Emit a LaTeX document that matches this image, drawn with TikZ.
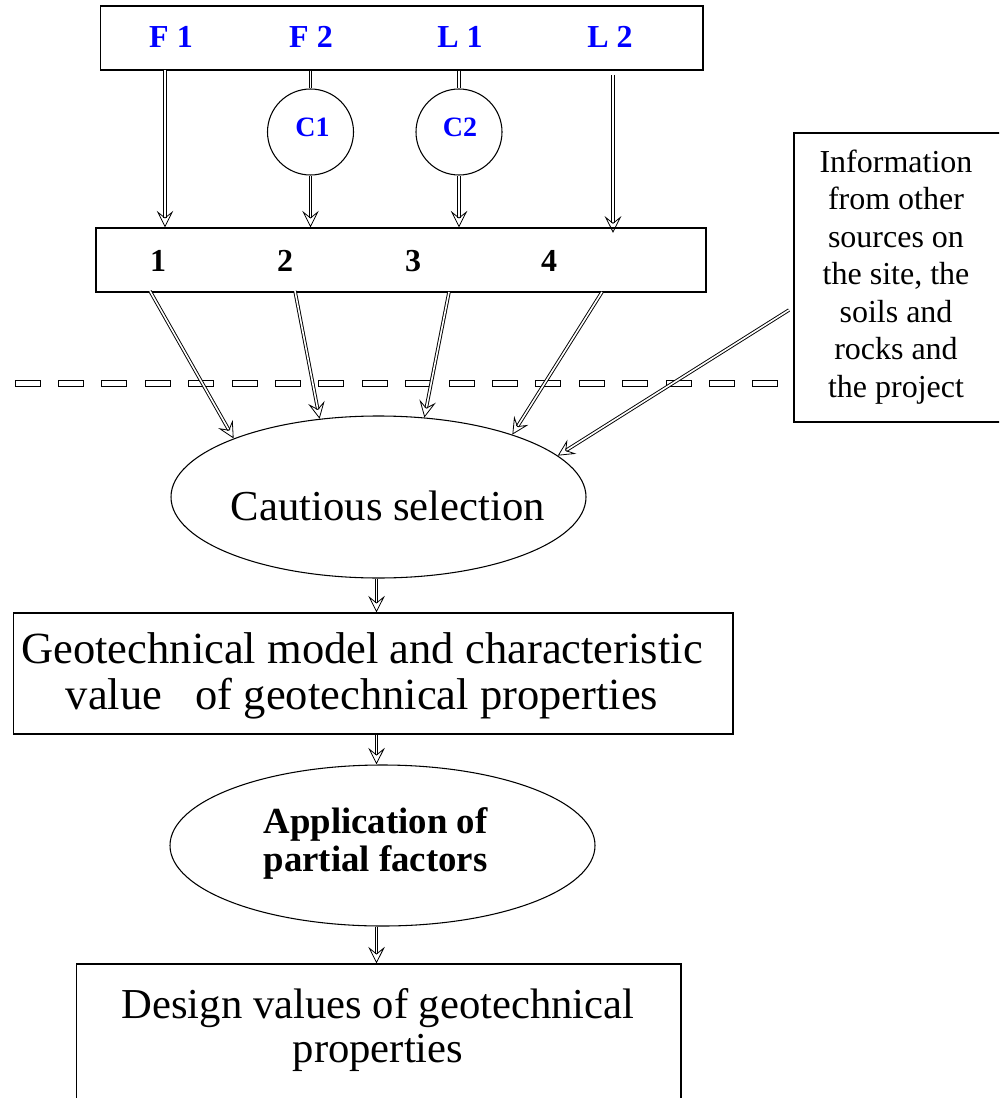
\documentclass[tikz,border=0pt]{standalone}
\usepackage{fontspec}
\setmainfont{Liberation Serif}
\usetikzlibrary{arrows.meta,shapes.geometric}
\definecolor{lblue}{RGB}{0,0,255}
\begin{document}
\begin{tikzpicture}[x=0.75pt,y=-0.75pt,
  box/.style={draw, line width=0.8pt, rectangle, inner sep=0pt},
  oval/.style={draw, line width=0.8pt, ellipse, inner sep=0pt},
  circ/.style={draw, line width=0.8pt, circle, inner sep=0pt, minimum size=64.5pt},
  dbl/.style={double, double distance=1.2pt, line width=0.7pt},
  arr/.style={dbl, -{Stealth[open, length=12.5pt, width=12.5pt, inset=5pt, line width=0.6pt]}},
  toplbl/.style={text=lblue, font=\bfseries\fontsize{24}{26}\selectfont, anchor=base, inner sep=0pt},
  numlbl/.style={font=\bfseries\fontsize{24}{26}\selectfont, anchor=base, inner sep=0pt},
  clbl/.style={text=lblue, font=\bfseries\fontsize{21}{23}\selectfont, anchor=base, inner sep=0pt},
  bigtxt/.style={font=\fontsize{32}{33}\selectfont, align=center, inner sep=0pt},
  dashbox/.style={draw, line width=0.5pt, fill=white}
]
\useasboundingbox (0,0) rectangle (999,1098);
\clip (0,0) rectangle (999,1098);

% top box
\node[box, minimum width=451.7pt, minimum height=48pt] (tb) at (401.85,38) {};
\node[toplbl] (f1) at (171,48) {F 1};
\node[toplbl] (f2) at (311,48) {F 2};
\node[toplbl] (l1) at (460,48) {L 1};
\node[toplbl] (l2) at (610,48) {L 2};

% circles
\node[circ] (c1) at (310.5,132) {};
\node[clbl] (c1t) at (312.5,137) {C1};
\node[circ] (c2) at (459,132) {};
\node[clbl] (c2t) at (460,137) {C2};

% number box
\node[box, minimum width=457.5pt, minimum height=48pt] (nb) at (401,260) {};
\node[numlbl] (n1) at (158,272) {1};
\node[numlbl] (n2) at (285,272) {2};
\node[numlbl] (n3) at (413,272) {3};
\node[numlbl] (n4) at (549,272) {4};

% info box
\node[box, minimum width=158.25pt, minimum height=216.75pt] (info) at (899.5,277.5) {};
\node[font=\fontsize{24}{28.1}\selectfont, align=center, inner sep=0pt] (infot) at (896,277)
  {Information\\from other\\sources on\\the site, the\\soils and\\rocks and\\the project};

% dashed separator
\foreach \k in {0,...,17} {
  \draw[dashbox] ({14.9+43.4*\k},380) rectangle ({39.9+43.4*\k},386);
}

% cautious selection
\node[oval, minimum width=311.25pt, minimum height=121.5pt] (sel) at (378.5,497) {};
\node[bigtxt, anchor=base] (selt) at (388,520) {Cautious selection};

% geotechnical model box
\node[box, minimum width=539.5pt, minimum height=90.75pt] (geo) at (373.3,673.5) {};
\node[bigtxt, font=\fontsize{33.4}{34}\selectfont] (geot) at (362,676) {Geotechnical model and characteristic\\value \ \ of geotechnical properties};

% application ellipse
\node[oval, minimum width=318.75pt, minimum height=120.75pt] (app) at (382.5,845.5) {};
\node[font=\bfseries\fontsize{27.6}{28.5}\selectfont, align=center, inner sep=0pt] (appt) at (375.5,843) {Application of\\partial factors};

% design box
\node[box, minimum width=453.3pt, minimum height=109.5pt] (des) at (378.8,1037) {};
\node[bigtxt] (dest) at (378,1030) {Design values of geotechnical\\properties};

% coordinates
\coordinate (a1) at (165,70);
\coordinate (a4) at (613,75);
\coordinate (s1) at (150,291);
\coordinate (s2) at (295,291);
\coordinate (s3) at (449,292);
\coordinate (s4) at (602,292);
\coordinate (si) at (789,310);
\coordinate (col) at (376.5,0);

% top connectors
\draw[arr] (a1) -- (a1 |- nb.north);
\draw[dbl] (c1 |- tb.south) -- (c1.north);
\draw[arr] (c1.south) -- (c1 |- nb.north);
\draw[dbl] (c2 |- tb.south) -- (c2.north);
\draw[arr] (c2.south) -- (c2 |- nb.north);
\draw[arr] (a4) -- ([yshift=-4]a4 |- nb.north);

% to cautious selection
\draw[arr] (s1) -- (sel.158);
\draw[arr] (s2) -- (sel.127);
\draw[arr] (s3) -- (sel.60);
\draw[arr] (s4) -- (sel.25);
\draw[arr] (si) -- (sel.13.5);

% vertical chain
\draw[arr] (col |- sel.south) -- (col |- geo.north);
\draw[arr] (col |- geo.south) -- (col |- app.north);
\draw[arr] (col |- app.south) -- (col |- des.north);
\end{tikzpicture}
\end{document}
